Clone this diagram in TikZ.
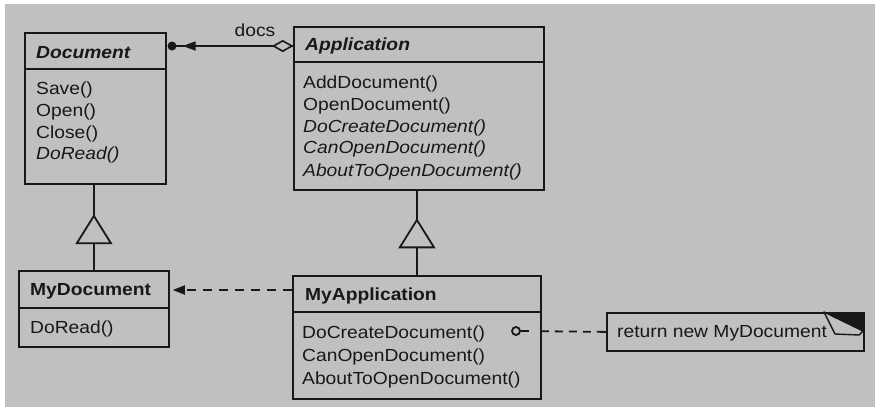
\documentclass[tikz,border=0pt]{standalone}
\usepackage{fontspec}
\setmainfont{Liberation Sans}[FakeStretch=1.1]
\usetikzlibrary{arrows.meta,decorations.markings,shapes.geometric}
\definecolor{bg}{RGB}{192,192,192}
\definecolor{ink}{RGB}{24,24,24}
\begin{document}
\begin{tikzpicture}[x=1pt,y=-1pt,
  ln/.style={draw=ink, line width=1.8pt},
  cls/.style={ln, rectangle, inner sep=0pt, anchor=north west, fill=bg},
  txt/.style={anchor=base west, inner sep=0pt, text=ink, font=\fontsize{17.5}{21}\selectfont},
  inh/.style={decoration={markings, mark=at position #1 with {\arrow{Triangle[length=30pt,width=37pt,fill=bg]}}}, postaction={decorate}},
  dsh/.style={ln, dash pattern=on 9pt off 7pt}
]
\useasboundingbox (0,0) rectangle (875,408);
\fill[white] (0,0) rectangle (875,408);
\fill[bg] (5,4) rectangle (875,407);

% classes
\node[cls, minimum width=141pt, minimum height=151pt] (doc) at (24,32) {};
\draw[ln] (doc.west |- 0,69) -- (doc.east |- 0,69);
\node[cls, minimum width=250pt, minimum height=163pt] (app) at (293,26) {};
\draw[ln] (app.west |- 0,62) -- (app.east |- 0,62);
\node[cls, minimum width=150pt, minimum height=76pt] (mydoc) at (18,270) {};
\draw[ln] (mydoc.west |- 0,308) -- (mydoc.east |- 0,308);
\node[cls, minimum width=248pt, minimum height=123pt] (myapp) at (292,275) {};
\draw[ln] (myapp.west |- 0,312) -- (myapp.east |- 0,312);
\node[cls, minimum width=257pt, minimum height=38pt] (note) at (606,312) {};
\fill[ink] (824,312) -- (863,312) -- (863,332) -- cycle;
\draw[ln, line width=1.4pt, fill=bg, line join=round] (824,312) -- (835,334) -- (859,335) -- (863,331) -- cycle;

% texts
\node[txt] (t1) at (36,58) {\textbf{\textit{Document}}};
\node[txt] (t2) at (36,94) {Save()};
\node[txt] (t3) at (36,116) {Open()};
\node[txt] (t4) at (36,138) {Close()};
\node[txt] (t5) at (36,159) {\textit{DoRead()}};

\node[txt] (a1) at (305,50) {\textbf{\textit{Application}}};
\node[txt] (a2) at (303,88) {AddDocument()};
\node[txt] (a3) at (303,110) {OpenDocument()};
\node[txt] (a4) at (303,132) {\textit{DoCreateDocument()}};
\node[txt] (a5) at (303,153) {\textit{CanOpenDocument()}};
\node[txt] (a6) at (303,176) {\textit{AboutToOpenDocument()}};

\node[txt] (m1) at (30,295) {\textbf{MyDocument}};
\node[txt] (m2) at (30,333) {DoRead()};

\node[txt] (p1) at (305,300) {\textbf{MyApplication}};
\node[txt] (p2) at (302,338) {DoCreateDocument()};
\node[txt] (p3) at (302,361) {CanOpenDocument()};
\node[txt] (p4) at (302,384) {AboutToOpenDocument()};

\node[txt] (n1) at (617,337) {return new MyDocument};
\node[txt, anchor=base] (docs) at (255,36) {docs};

% docs association
\node[circle, fill=ink, inner sep=0pt, minimum size=9pt] (dot) at (172,46) {};
\draw[ln] ([yshift=-20pt]app.north west) -- (dot.center);
\draw[ln, -{Triangle[length=13pt,width=9pt]}, shorten >=6pt]
  ([yshift=-20pt]app.north west) -- (dot.east);
\node[diamond, ln, line width=1.6pt, fill=bg, inner sep=0pt, minimum width=19pt, minimum height=11pt, anchor=east] (diam) at ([yshift=-20pt]app.north west) {};

% inheritance
\draw[ln, inh=0.655] (mydoc.north) -- (mydoc.north |- doc.south);
\draw[ln, inh=0.674] (myapp.north) -- (myapp.north |- app.south);

% dependency
\draw[dsh, -{Triangle[length=12pt,width=9pt]}, shorten >=3pt]
  ([yshift=-15pt]myapp.north west) -- ([yshift=-20pt]mydoc.north east);

% note link
\node[circle, draw=ink, line width=1.8pt, fill=bg, inner sep=0pt, minimum size=8pt] (circ) at (516,331) {};
\draw[ln, dash pattern=on 8pt off 12pt on 8pt off 6pt on 8pt off 6pt on 8pt off 6pt on 8pt off 6pt on 12pt]
  (circ.east) -- (note.west);
\end{tikzpicture}
\end{document}
